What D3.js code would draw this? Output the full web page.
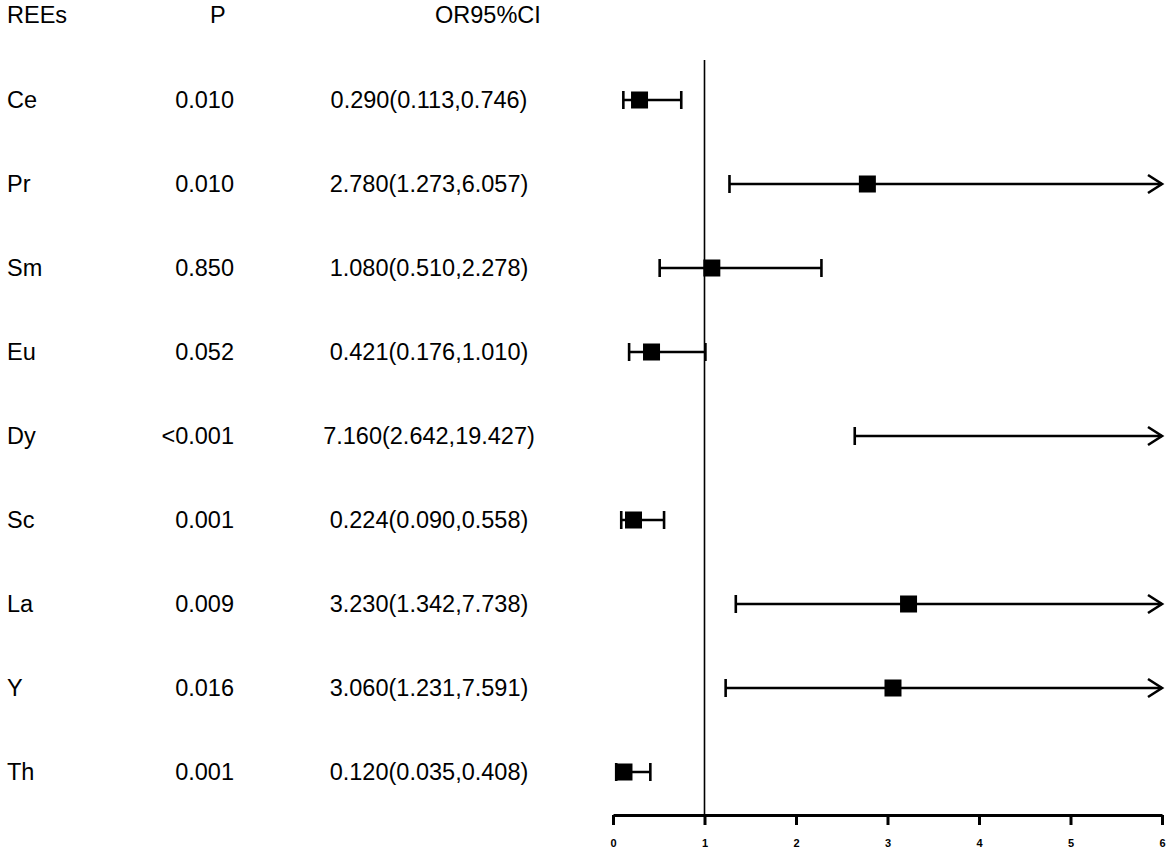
<!DOCTYPE html>
<html><head><meta charset="utf-8">
<script src="https://cdn.jsdelivr.net/npm/d3@7/dist/d3.min.js"></script>
<style>
html,body{margin:0;padding:0;background:#fff;}
svg{display:block;font-family:"Liberation Sans",Arial,sans-serif;}
</style></head>
<body><svg id="c" width="1170" height="853"></svg>
<script>
const categories = ["Ce","Pr","Sm","Eu","Dy","Sc","La","Y","Th"];
const pValues = ["0.010","0.010","0.850","0.052","<0.001","0.001","0.009","0.016","0.001"];
const orValues = [0.290,2.780,1.080,0.421,7.160,0.224,3.230,3.060,0.120];
const lowerCI = [0.113,1.273,0.510,0.176,2.642,0.090,1.342,1.231,0.035];
const upperCI = [0.746,6.057,2.278,1.010,19.427,0.558,7.738,7.591,0.408];
const xTicks = [0,1,2,3,4,5,6];
const headers = ["REEs","P","OR95%CI"];

const svg = d3.select("#c");
const x = d3.scaleLinear().domain([0,6]).range([613,1162]);
const y = d3.scalePoint().domain(categories).range([100,772]);
const f3 = d3.format(".3f");
const fs = 23.5;

// headers
svg.append("text").attr("x",7).attr("y",23).attr("font-size",fs).text(headers[0]);
svg.append("text").attr("x",210).attr("y",23).attr("font-size",fs).text(headers[1]);
svg.append("text").attr("x",435).attr("y",23).attr("font-size",fs).text(headers[2]);

const rows = categories.map((c,i)=>({c,p:pValues[i],or:orValues[i],lo:lowerCI[i],hi:upperCI[i]}));

const g = svg.append("g");
g.selectAll(".cat").data(rows).join("text")
  .attr("x",7).attr("y",d=>y(d.c)+8).attr("font-size",fs).text(d=>d.c);
g.selectAll(".pv").data(rows).join("text")
  .attr("x",234).attr("y",d=>y(d.c)+8).attr("font-size",fs).attr("text-anchor","end").text(d=>d.p);
g.selectAll(".orv").data(rows).join("text")
  .attr("x",429).attr("y",d=>y(d.c)+8).attr("font-size",fs).attr("text-anchor","middle")
  .text(d=>f3(d.or)+"("+f3(d.lo)+","+f3(d.hi)+")");

// reference line at 1
svg.append("line").attr("x1",x(1)).attr("x2",x(1)).attr("y1",60).attr("y2",815)
  .attr("stroke","#000").attr("stroke-width",1.6);

const xmax = 6;
const forest = svg.append("g");
rows.forEach(d=>{
  const yy = y(d.c);
  const x1 = x(d.lo), x2 = x(Math.min(d.hi,xmax));
  forest.append("line").attr("x1",x1).attr("x2",x2).attr("y1",yy).attr("y2",yy)
    .attr("stroke","#000").attr("stroke-width",2.6);
  forest.append("line").attr("x1",x1).attr("x2",x1).attr("y1",yy-9).attr("y2",yy+9)
    .attr("stroke","#000").attr("stroke-width",2.6);
  if (d.hi > xmax) {
    forest.append("path")
      .attr("d",`M${x2-14},${yy-9} L${x2},${yy} L${x2-14},${yy+9}`)
      .attr("fill","none").attr("stroke","#000").attr("stroke-width",2.6);
  } else {
    forest.append("line").attr("x1",x2).attr("x2",x2).attr("y1",yy-9).attr("y2",yy+9)
      .attr("stroke","#000").attr("stroke-width",2.6);
  }
  if (d.or <= xmax) {
    forest.append("rect").attr("x",x(d.or)-8.5).attr("y",yy-8.5)
      .attr("width",17).attr("height",17).attr("fill","#000");
  }
});

// x axis
const axis = d3.axisBottom(x).tickValues(xTicks).tickSize(10).tickSizeOuter(0).tickPadding(14).tickFormat(d3.format("d"));
const ag = svg.append("g").attr("transform","translate(0,815)").call(axis);
ag.select(".domain").attr("stroke","#000").attr("stroke-width",3);
ag.selectAll(".tick line").attr("stroke","#000").attr("stroke-width",3);
ag.selectAll(".tick text").attr("font-size",11).attr("font-weight","bold").attr("fill","#000")
  .attr("font-family","'Liberation Sans',Arial,sans-serif");
</script></body></html>
